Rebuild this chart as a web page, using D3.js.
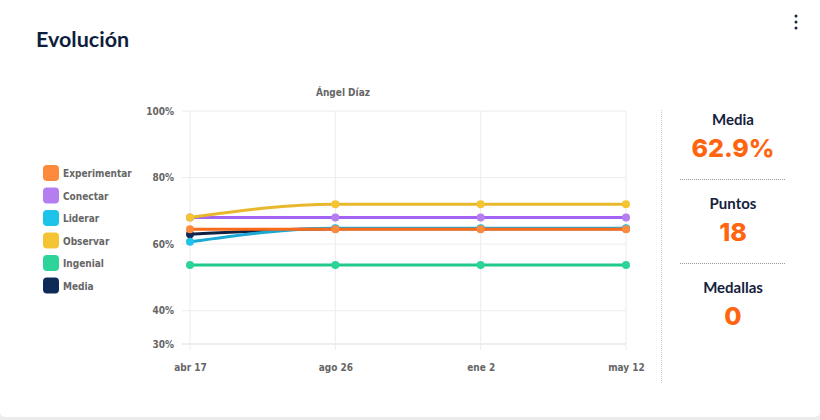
<!DOCTYPE html>
<html>
<head>
<meta charset="utf-8">
<script src="https://cdn.jsdelivr.net/npm/d3@7"></script>
<style>
  body { margin: 0; background: #fff; }
  #d3-container { width: 820px; height: 420px; }
</style>
</head>
<body>
<div id="d3-container"></div>
<script>
/* CONSTANTS AND GLOBALS */
const width = 820,
  height = 420,
  margin = { top: 111, bottom: 76, left: 190, right: 194 };

const chartFont = "'Liberation Sans Narrow', 'DejaVu Sans Condensed', 'Roboto', sans-serif";
const cardFont = "Lato, 'Open Sans', sans-serif";

/* DATA */
const dates = ["abr 17", "ago 26", "ene 2", "may 12"];
const yTicks = [30, 40, 60, 80, 100];
const seriesNames = ["Experimentar", "Conectar", "Liderar", "Observar", "Ingenial", "Media"];
const experimentar = [64.5, 64.5, 64.5, 64.5];
const conectar = [68, 68, 68, 68];
const liderar = [60.7, 64.8, 64.8, 64.8];
const observar = [68, 72, 72, 72];
const ingenial = [53.7, 53.7, 53.7, 53.7];
const media = [63, 64.6, 64.6, 64.6];
const legendColors = ["#fe8a3d", "#b57ef0", "#1ec3ea", "#f5c433", "#2dd49a", "#0f2a57"];
const lineColors = ["#f96b1c", "#a463f2", "#1ba8d4", "#e8b82c", "#1fc88b", "#0f2140"];
const stats = [
  { label: "Media", value: "62.9%" },
  { label: "Puntos", value: "18" },
  { label: "Medallas", value: "0" }
];

const seriesValues = [experimentar, conectar, liderar, observar, ingenial, media];
const series = seriesNames.map((name, i) => ({
  name,
  values: seriesValues[i],
  color: lineColors[i],
  legend: legendColors[i]
}));

/* SVG */
const svg = d3.select("#d3-container")
  .append("svg")
  .attr("width", width)
  .attr("height", height);

// page background + card
svg.append("rect")
  .attr("width", width).attr("height", height)
  .attr("fill", "#ececec");

svg.append("rect")
  .attr("x", 0).attr("y", -10)
  .attr("width", width).attr("height", 427)
  .attr("rx", 5)
  .attr("fill", "#fff");

svg.append("text")
  .attr("x", 36).attr("y", 47)
  .attr("font-family", cardFont)
  .attr("font-weight", 700)
  .attr("font-size", 21.5)
  .attr("fill", "#0e1e3c")
  .text("Evolución");

// three dots menu
svg.selectAll("circle.menu")
  .data([16, 22, 28])
  .join("circle")
  .attr("class", "menu")
  .attr("cx", 796).attr("cy", d => d)
  .attr("r", 1.5)
  .attr("fill", "#1a2640");

//SCALES
const xScale = d3.scalePoint()
  .domain(dates)
  .range([margin.left, width - margin.right]);

const yScale = d3.scaleLinear()
  .domain([30, 100])
  .range([height - margin.bottom, margin.top]);

// chart title
svg.append("text")
  .attr("x", 343).attr("y", 96)
  .attr("text-anchor", "middle")
  .attr("font-family", chartFont)
  .attr("font-weight", 700)
  .attr("font-size", 10)
  .attr("fill", "#666")
  .text("Ángel Díaz");

// GRID
svg.append("g")
  .selectAll("line")
  .data(yTicks)
  .join("line")
  .attr("x1", margin.left - 8)
  .attr("x2", width - margin.right)
  .attr("y1", d => yScale(d))
  .attr("y2", d => yScale(d))
  .attr("stroke", d => d === 30 ? "#dddddd" : "#ececec");

svg.append("g")
  .selectAll("line")
  .data(dates)
  .join("line")
  .attr("x1", d => xScale(d))
  .attr("x2", d => xScale(d))
  .attr("y1", margin.top)
  .attr("y2", height - margin.bottom + 6)
  .attr("stroke", "#ececec");

//AXES
const yAxis = d3.axisLeft(yScale)
  .tickValues(yTicks)
  .tickFormat(d => d + "%")
  .tickSize(0)
  .tickPadding(16);

const xAxis = d3.axisBottom(xScale)
  .tickSize(0)
  .tickPadding(20);

svg.append("g")
  .attr("transform", `translate(${margin.left}, 0)`)
  .call(yAxis)
  .call(g => g.select(".domain").remove())
  .selectAll("text")
  .attr("font-family", chartFont)
  .attr("font-weight", 700)
  .attr("font-size", 10)
  .attr("fill", "#666");

svg.append("g")
  .attr("transform", `translate(0, ${height - margin.bottom})`)
  .call(xAxis)
  .call(g => g.select(".domain").remove())
  .selectAll("text")
  .attr("font-family", chartFont)
  .attr("font-weight", 700)
  .attr("font-size", 10)
  .attr("fill", "#666");

// LINES
const line = d3.line()
  .x((d, i) => xScale(dates[i]))
  .y(d => yScale(d))
  .curve(d3.curveMonotoneX);

// draw Media first, Experimentar last so orange sits on top
const drawOrder = [5, 2, 4, 1, 3, 0].map(i => series[i]);

const groups = svg.append("g")
  .selectAll("g")
  .data(drawOrder)
  .join("g");

groups.append("path")
  .attr("d", d => line(d.values))
  .attr("fill", "none")
  .attr("stroke", d => d.color)
  .attr("stroke-width", 3)
  .attr("stroke-linejoin", "round");

groups.selectAll("circle")
  .data(d => d.values.map((v, i) => ({ v, i, c: d.legend })))
  .join("circle")
  .attr("cx", d => xScale(dates[d.i]))
  .attr("cy", d => yScale(d.v))
  .attr("r", 4)
  .attr("fill", d => d.c);

// LEGEND
const legend = svg.append("g")
  .selectAll("g")
  .data(series)
  .join("g")
  .attr("transform", (d, i) => `translate(43, ${173 + i * 22.5})`);

legend.append("rect")
  .attr("x", 0).attr("y", -8)
  .attr("width", 16).attr("height", 16)
  .attr("rx", 4)
  .attr("fill", d => d.legend);

legend.append("text")
  .attr("x", 20).attr("y", 4)
  .attr("font-family", chartFont)
  .attr("font-weight", 700)
  .attr("font-size", 10)
  .attr("fill", "#666")
  .text(d => d.name);

// STATS PANEL
svg.append("line")
  .attr("x1", 661.5).attr("x2", 661.5)
  .attr("y1", 110).attr("y2", 383)
  .attr("stroke", "#c8c8c8")
  .attr("stroke-dasharray", "1,1");

svg.selectAll("line.sep")
  .data([179, 263])
  .join("line")
  .attr("class", "sep")
  .attr("x1", 680).attr("x2", 786)
  .attr("y1", d => d + 0.5).attr("y2", d => d + 0.5)
  .attr("stroke", "#999")
  .attr("stroke-dasharray", "1,1");

const stat = svg.append("g")
  .selectAll("g")
  .data(stats)
  .join("g")
  .attr("transform", (d, i) => `translate(733, ${125 + i * 84})`);

stat.append("text")
  .attr("text-anchor", "middle")
  .attr("font-family", cardFont)
  .attr("font-weight", 700)
  .attr("font-size", 15)
  .attr("fill", "#14213d")
  .text(d => d.label);

stat.append("text")
  .attr("y", 32)
  .attr("text-anchor", "middle")
  .attr("font-family", "Inter, 'Open Sans', sans-serif")
  .attr("font-weight", 800)
  .attr("font-size", 25)
  .attr("fill", "#ff6511")
  .text(d => d.value);
</script>
</body>
</html>
